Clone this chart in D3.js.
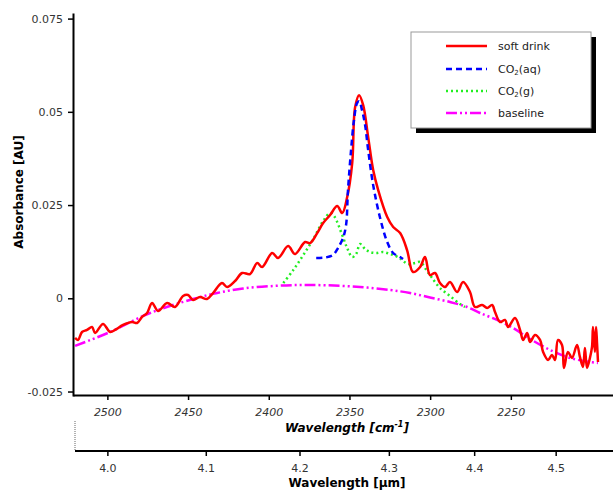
<!DOCTYPE html>
<html><head><meta charset="utf-8">
<script src="https://cdn.jsdelivr.net/npm/d3@7"></script>
<style>
body{margin:0;background:#fff;}
svg{display:block;font-family:"DejaVu Sans",Verdana,sans-serif;}
</style></head><body>
<svg id="c" width="613" height="490"></svg>
<script>
// ---- data (wavenumber cm^-1, absorbance AU) ----
const drinkWn = [2520.0,2518.2,2515.7,2512.6,2509.5,2507.6,2502.7,2498.3,2495.2,2490.3,2484.7,2481.6,2478.5,2475.4,2472.3,2468.6,2463.0,2458.1,2453.1,2450.0,2446.9,2442.6,2438.3,2434.5,2429.0,2425.8,2420.9,2416.5,2411.6,2407.2,2404.1,2397.9,2394.2,2388.0,2383.7,2377.5,2374.4,2370.0,2366.3,2362.0,2357.6,2354.5,2351.4,2348.3,2346.5,2344.0,2341.5,2338.4,2335.3,2332.2,2326.6,2322.9,2318.6,2314.3,2310.6,2306.2,2303.2,2300.1,2297.0,2293.9,2290.8,2287.7,2283.3,2279.6,2275.3,2272.2,2267.8,2264.7,2261.6,2259.8,2256.7,2253.6,2251.7,2247.4,2244.3,2242.4,2239.9,2238.1,2235.0,2231.9,2230.0,2226.9,2224.5,2222.6,2220.8,2218.3,2217.1,2214.6,2212.1,2209.0,2207.2,2205.3,2204.1,2202.8,2201.0,2199.7,2199.1,2197.9,2197.2,2196.6,2196.0];
const drinkAbs = [-0.01063,-0.01117,-0.00903,-0.00849,-0.00769,-0.00930,-0.00688,-0.00903,-0.00849,-0.00715,-0.00635,-0.00662,-0.00501,-0.00394,-0.00126,-0.00340,-0.00126,-0.00233,0.00062,0.00088,-0.00046,0.00035,-0.00019,0.00142,0.00410,0.00303,0.00463,0.00678,0.00651,0.00946,0.00839,0.01214,0.01080,0.01401,0.01187,0.01508,0.01481,0.01749,0.02017,0.02232,0.02473,0.02285,0.02714,0.03625,0.05125,0.05446,0.05178,0.04321,0.03437,0.02901,0.02178,0.01910,0.01749,0.01294,0.00705,0.00839,0.01106,0.00624,0.00678,0.00410,0.00303,0.00437,0.00169,0.00437,0.00169,-0.00233,-0.00179,-0.00260,-0.00179,-0.00367,-0.00635,-0.00581,-0.00769,-0.00528,-0.00849,-0.01117,-0.00930,-0.01171,-0.00983,-0.01117,-0.01439,-0.01653,-0.01519,-0.01653,-0.01117,-0.01251,-0.01867,-0.01439,-0.01599,-0.01251,-0.01573,-0.01840,-0.01331,-0.01867,-0.01599,-0.01305,-0.00769,-0.01439,-0.00769,-0.01198,-0.01707];

const aqWn  = [2370.6,2365.0,2360.2,2357.1,2354.0,2352.1,2350.9,2349.0,2347.2,2345.3,2344.0,2342.2,2340.3,2338.4,2335.3,2331.0,2326.6,2322.9,2318.6,2316.8];
const aqAbs = [0.01080,0.01093,0.01160,0.01348,0.01615,0.01964,0.02901,0.03973,0.04776,0.05232,0.05286,0.05045,0.04643,0.03973,0.03035,0.02152,0.01508,0.01214,0.01106,0.01053];

const gWn  = [2391.0,2384.8,2378.6,2372.4,2366.3,2362.0,2359.5,2354.5,2351.4,2348.3,2345.9,2343.4,2340.3,2337.2,2333.5,2329.2,2324.8,2319.9,2313.7,2309.4,2306.2,2301.9,2298.8,2293.9,2287.7,2281.5,2278.4];
const gAbs = [0.00410,0.00758,0.01160,0.01589,0.02071,0.02285,0.02205,0.01696,0.01347,0.01106,0.01187,0.01455,0.01321,0.01240,0.01214,0.01240,0.01187,0.01106,0.00919,0.00946,0.00973,0.00731,0.00544,0.00276,0.00062,-0.00153,-0.00233];

const baseWn  = [2520.0,2498.3,2473.5,2446.9,2432.0,2415.9,2397.3,2380.6,2363.9,2343.4,2324.8,2312.4,2300.1,2287.7,2277.1,2269.1,2258.6,2248.6,2238.1,2225.7,2213.4,2201.0,2196.0];
const baseAbs = [-0.01278,-0.00903,-0.00394,-0.00019,0.00142,0.00263,0.00330,0.00356,0.00348,0.00303,0.00222,0.00142,0.00021,-0.00099,-0.00233,-0.00394,-0.00581,-0.00796,-0.01090,-0.01385,-0.01599,-0.01707,-0.01734];

const yTicks = [-0.025, 0, 0.025, 0.05, 0.075];
const yTickLabels = ["-0.025","0","0.025","0.05","0.075"];
const xTicks = [2500,2450,2400,2350,2300,2250];
const xTickLabels = ["2500","2450","2400","2350","2300","2250"];
const umTicks = [4.0,4.1,4.2,4.3,4.4,4.5];
const umTickLabels = ["4.0","4.1","4.2","4.3","4.4","4.5"];
const seriesNames = ["soft drink","CO2(aq)","CO2(g)","baseline"];

// ---- drawing ----
const svg = d3.select("#c");
const x = d3.scaleLinear().domain([2521.3, 2186.7]).range([73, 613]);
const y = d3.scaleLinear().domain([-0.0262, 0.0765]).range([396, 13]);

const line = d3.line().x(d=>x(d[0])).y(d=>y(d[1])).curve(d3.curveCatmullRom.alpha(0.5));
const zip = (a,b)=>a.map((v,i)=>[v,b[i]]);

const series = [
  {name:seriesNames[3], data:zip(baseWn,baseAbs), color:"#ff00ff", dash:"11,3,2,3,2,3", w:2.5},
  {name:seriesNames[2], data:zip(gWn,gAbs), color:"#22ee22", dash:"2,3", w:2.5},
  {name:seriesNames[0], data:zip(drinkWn,drinkAbs), color:"#ff0000", dash:null, w:2.5},
  {name:seriesNames[1], data:zip(aqWn,aqAbs), color:"#0000ff", dash:"6,4", w:2.5},
];
const gLines = svg.append("g");
series.forEach(s=>{
  gLines.append("path").datum(s.data).attr("d",line)
    .attr("fill","none").attr("stroke",s.color).attr("stroke-width",s.w)
    .attr("stroke-dasharray",s.dash).attr("stroke-linejoin","round");
});

// y axis
const yAx = svg.append("g").attr("transform","translate(73,0)")
  .call(d3.axisLeft(y).tickValues(yTicks).tickFormat((d,i)=>yTickLabels[i]).tickSize(5).tickSizeOuter(0).tickPadding(5));
yAx.select(".domain").attr("stroke-width",2);
yAx.selectAll(".tick line").attr("stroke-width",1.5);
yAx.selectAll("text").attr("font-size",11).attr("fill","#333").attr("font-family","DejaVu Sans");

// x axis (cm-1)
const xAx = svg.append("g").attr("transform","translate(0,395)")
  .call(d3.axisBottom(x).tickValues(xTicks).tickFormat((d,i)=>xTickLabels[i]).tickSize(5).tickSizeOuter(0).tickPadding(8));
xAx.select(".domain").attr("stroke-width",2);
xAx.selectAll(".tick line").attr("stroke-width",1.5);
xAx.selectAll("text").attr("font-size",11).attr("fill","#333").attr("font-style","italic").attr("font-family","DejaVu Sans");

// second axis (um) — same scale, ticks at 1e4/um
const uAx = svg.append("g").attr("transform","translate(0,451)")
  .call(d3.axisBottom(x).tickValues(umTicks.map(v=>1e4/v)).tickFormat((d,i)=>umTickLabels[i]).tickSize(5).tickSizeOuter(0).tickPadding(8));
uAx.select(".domain").attr("stroke-width",2).attr("d","M75,0H613");
uAx.selectAll(".tick line").attr("stroke-width",1.5);
uAx.selectAll("text").attr("font-size",11).attr("fill","#333").attr("font-family","DejaVu Sans");
svg.append("line").attr("x1",75).attr("x2",75).attr("y1",421).attr("y2",451)
  .attr("stroke","#666").attr("stroke-width",1).attr("stroke-dasharray","1,1");

// titles
const t1 = svg.append("text").attr("x",347).attr("y",432).attr("text-anchor","middle")
  .attr("font-size",12).attr("font-weight","bold").attr("font-style","italic");
t1.append("tspan").text("Wavelength [cm");
t1.append("tspan").attr("font-size",8).attr("dy",-5).text("-1");
t1.append("tspan").attr("dy",5).text("]");
svg.append("text").attr("x",347).attr("y",487).attr("text-anchor","middle")
  .attr("font-size",12).attr("font-weight","bold").text("Wavelength [μm]");
svg.append("text").attr("transform","translate(23,192) rotate(-90)").attr("text-anchor","middle")
  .attr("font-size",12).attr("font-weight","bold").text("Absorbance [AU]");

// legend
const lg = svg.append("g");
lg.append("rect").attr("x",416).attr("y",37).attr("width",180).attr("height",96).attr("fill","#000");
lg.append("rect").attr("x",411).attr("y",32).attr("width",180).attr("height",96).attr("fill","#fff").attr("stroke","#999").attr("stroke-width",1);
const legItems = [series[2],series[3],series[1],series[0]];
const rowY = [46,69,91,113];
legItems.forEach((s,i)=>{
  lg.append("line").attr("x1",446).attr("x2",487).attr("y1",rowY[i]).attr("y2",rowY[i])
    .attr("stroke",s.color).attr("stroke-width",2.5).attr("stroke-dasharray",s.dash);
  const t = lg.append("text").attr("x",498).attr("y",rowY[i]+4).attr("font-size",11).attr("fill","#222");
  const nm = s.name;
  if (nm.startsWith("CO2")) {
    t.append("tspan").text("CO");
    t.append("tspan").attr("font-size",7).attr("dy",2).text("2");
    t.append("tspan").attr("dy",-2).text(nm.slice(3));
  } else t.text(nm);
});
</script></body></html>
